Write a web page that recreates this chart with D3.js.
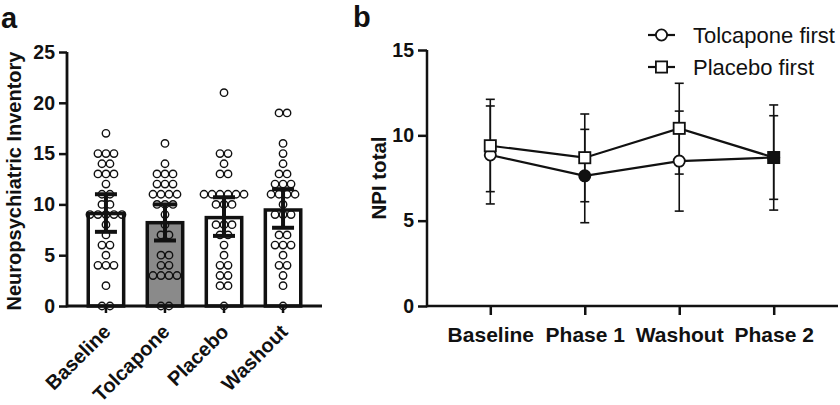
<!DOCTYPE html>
<html><head><meta charset="utf-8">
<script src="https://cdn.jsdelivr.net/npm/d3@7"></script>
<style>
html,body{margin:0;padding:0;background:#fff;}
svg{display:block;font-family:"Liberation Sans",Arial,sans-serif;}
</style></head>
<body><svg id="chart" width="840" height="405"></svg>
<script>
// ---------- Panel a data ----------
const categoriesA = ["Baseline", "Tolcapone", "Placebo", "Washout"];
const meansA = [9.1, 8.2, 8.7, 9.45];
const ciLowA = [7.3, 6.45, 6.9, 7.7];
const ciHighA = [11.0, 10.0, 10.7, 11.5];
const baselineVals = [17,15,15,15,14,14,13,13,13,12,11,11,10,10,9,9,9,9,9,8,7,6,6,5,4,4,4,2,0,0];
const tolcaponeVals = [16,14,13,13,13,12,12,12,11,11,11,11,10,10,10,9,8,7,7,5,5,4,4,3,3,3,3,0,0];
const placeboVals = [21,15,15,14,13,13,11,11,11,11,11,11,10,10,10,8,8,8,7,7,6,5,4,4,3,3,2,2,0];
const washoutVals = [19,19,16,15,14,13,13,12,12,12,11,11,11,11,10,9,9,9,7,7,6,6,6,5,4,4,3,2,0];
const pointsA = [baselineVals, tolcaponeVals, placeboVals, washoutVals];
const yTicksA = [0, 5, 10, 15, 20, 25];

// ---------- Panel b data ----------
const phasesB = ["Baseline", "Phase 1", "Washout", "Phase 2"];
const seriesNames = ["Tolcapone first", "Placebo first"];
const tolFirstMean = [8.85, 7.63, 8.49, 8.7];
const tolFirstLow = [5.98, 4.88, 5.56, 6.25];
const tolFirstHigh = [11.72, 10.35, 11.42, 11.15];
const tolFirstOnDrug = [false, true, false, false];
const placFirstMean = [9.39, 8.69, 10.41, 8.7];
const placFirstLow = [6.70, 6.11, 7.73, 5.62];
const placFirstHigh = [12.11, 11.25, 13.05, 11.78];
const placFirstOnDrug = [false, false, false, true];
const yTicksB = [0, 5, 10, 15];

const svg = d3.select("#chart");
const INK = "#111";
const FONT = '"Liberation Sans",Arial,sans-serif';

// ================= Panel a =================
const xA = d3.scaleBand().domain(categoriesA).range([67, 322]).paddingInner(0.4).paddingOuter(0.36);
const yA = d3.scaleLinear().domain([0, 25]).range([306, 52]);
const gA = svg.append("g");

svg.append("text").attr("x", 1).attr("y", 28).attr("font-size", 29).attr("font-weight", "bold").attr("fill", INK).text("a");

// bars
gA.selectAll("rect.bar").data(categoriesA).join("rect")
  .attr("x", d => xA(d)).attr("width", xA.bandwidth())
  .attr("y", (d, i) => yA(meansA[i])).attr("height", (d, i) => yA(0) - yA(meansA[i]))
  .attr("fill", (d, i) => i === 1 ? "#8a8a8a" : "#fff")
  .attr("stroke", INK).attr("stroke-width", 3.5);

// dots (symmetric spread for equal values)
pointsA.forEach((vals, ci) => {
  const cx = xA(categoriesA[ci]) + xA.bandwidth() / 2;
  const groups = d3.group(vals, v => v);
  const pts = [];
  for (const [v, arr] of groups) {
    const n = arr.length;
    arr.forEach((_, k) => pts.push({ v, off: (k - (n - 1) / 2) * 8 }));
  }
  gA.selectAll(null).data(pts).join("circle")
    .attr("cx", d => cx + d.off).attr("cy", d => yA(d.v)).attr("r", 3.7)
    .attr("fill", "none").attr("stroke", INK).attr("stroke-width", 1.4);
});

// error bars
categoriesA.forEach((c, i) => {
  const cx = xA(c) + xA.bandwidth() / 2;
  const g = gA.append("g").attr("stroke", INK).attr("stroke-width", 4);
  g.append("line").attr("x1", cx).attr("x2", cx).attr("y1", yA(ciLowA[i])).attr("y2", yA(ciHighA[i]));
  [ciLowA[i], ciHighA[i]].forEach(v => g.append("line").attr("x1", cx - 11).attr("x2", cx + 11).attr("y1", yA(v)).attr("y2", yA(v)));
});

// axes
const yAxisA = gA.append("g").attr("transform", "translate(67,0)")
  .call(d3.axisLeft(yA).tickValues(yTicksA).tickSize(8).tickPadding(4));
const xAxisA = gA.append("g").attr("transform", "translate(0,306)")
  .call(d3.axisBottom(xA).tickSize(7).tickFormat(""));
[yAxisA, xAxisA].forEach(ax => {
  ax.select(".domain").attr("stroke", INK).attr("stroke-width", 2.8);
  ax.selectAll(".tick line").attr("stroke", INK).attr("stroke-width", 2.5);
});
xAxisA.select(".domain").attr("d", "M67,0H322");
yAxisA.select(".domain").attr("d", `M0,${yA(0)+1.4}V${yA(25)}`);
yAxisA.selectAll(".tick text").attr("font-size", 19.5).attr("font-weight", "bold").attr("fill", INK)
  .attr("font-family", FONT);

// rotated category labels
gA.selectAll("text.xlab").data(categoriesA).join("text")
  .attr("class", "xlab")
  .attr("transform", d => `translate(${xA(d) + xA.bandwidth() / 2 + 6},333) rotate(-45)`)
  .attr("text-anchor", "end").attr("font-size", 20).attr("font-weight", "bold").attr("fill", INK)
  .text(d => d);

// y title
svg.append("text").attr("transform", "translate(21,181) rotate(-90)")
  .attr("text-anchor", "middle").attr("font-size", 20).attr("font-weight", "bold").attr("fill", INK)
  .text("Neuropsychiatric Inventory");

// ================= Panel b =================
const xB = d3.scalePoint().domain(phasesB).range([427, 837]).padding(0.67);
const yB = d3.scaleLinear().domain([0, 15]).range([306, 50]);
const gB = svg.append("g");

svg.append("text").attr("x", 353).attr("y", 27).attr("font-size", 29).attr("font-weight", "bold").attr("fill", INK).text("b");

const yAxisB = gB.append("g").attr("transform", "translate(427,0)")
  .call(d3.axisLeft(yB).tickValues(yTicksB).tickSize(9).tickPadding(4));
const xAxisB = gB.append("g").attr("transform", "translate(0,306)")
  .call(d3.axisBottom(xB).tickSize(9).tickPadding(8));
[yAxisB, xAxisB].forEach(ax => {
  ax.select(".domain").attr("stroke", INK).attr("stroke-width", 2.5);
  ax.selectAll(".tick line").attr("stroke", INK).attr("stroke-width", 2.5);
  ax.selectAll(".tick text").attr("font-size", 19.5).attr("font-weight", "bold").attr("fill", INK)
    .attr("font-family", FONT);
});
xAxisB.select(".domain").attr("d", "M427,0H838");
yAxisB.select(".domain").attr("d", `M0,${yB(0)+1.2}V${yB(15)}`);
xAxisB.selectAll(".tick text").attr("font-size", 21).attr("dy", "0.9em");

svg.append("text").attr("transform", "translate(386,178) rotate(-90)")
  .attr("text-anchor", "middle").attr("font-size", 20.5).attr("font-weight", "bold").attr("fill", INK)
  .text("NPI total");

const seriesB = [
  { name: seriesNames[0], mean: tolFirstMean, lo: tolFirstLow, hi: tolFirstHigh, filled: tolFirstOnDrug, shape: "circle" },
  { name: seriesNames[1], mean: placFirstMean, lo: placFirstLow, hi: placFirstHigh, filled: placFirstOnDrug, shape: "square" }
];

// error bars
seriesB.forEach(s => {
  phasesB.forEach((p, i) => {
    const x = xB(p);
    const g = gB.append("g").attr("stroke", INK).attr("stroke-width", 1.6);
    g.append("line").attr("x1", x).attr("x2", x).attr("y1", yB(s.lo[i])).attr("y2", yB(s.hi[i]));
    [s.lo[i], s.hi[i]].forEach(v => g.append("line").attr("x1", x - 4.5).attr("x2", x + 4.5).attr("y1", yB(v)).attr("y2", yB(v)));
  });
});

const lineGen = d3.line().x((d, i) => xB(phasesB[i])).y(d => yB(d));
seriesB.forEach(s => {
  gB.append("path").datum(s.mean).attr("d", lineGen).attr("fill", "none").attr("stroke", INK).attr("stroke-width", 2.2);
});

function drawMarker(g, shape, x, y, filled) {
  if (shape === "circle") {
    g.append("circle").attr("cx", x).attr("cy", y).attr("r", 5.6)
      .attr("fill", filled ? INK : "#fff").attr("stroke", INK).attr("stroke-width", 1.8);
  } else {
    g.append("rect").attr("x", x - 5.6).attr("y", y - 5.6).attr("width", 11.2).attr("height", 11.2)
      .attr("fill", filled ? INK : "#fff").attr("stroke", INK).attr("stroke-width", 1.8);
  }
}
seriesB.forEach(s => {
  s.mean.forEach((v, i) => drawMarker(gB, s.shape, xB(phasesB[i]), yB(v), s.filled[i]));
});

// legend
seriesB.forEach((s, i) => {
  const y = 35 + i * 32;
  const lg = svg.append("g");
  lg.append("line").attr("x1", 648).attr("x2", 675).attr("y1", y).attr("y2", y).attr("stroke", INK).attr("stroke-width", 2.2);
  drawMarker(lg, s.shape, 661.5, y, false);
  lg.append("text").attr("x", 693).attr("y", y + 8).attr("font-size", 22).attr("fill", INK).text(s.name);
});
</script></body></html>
